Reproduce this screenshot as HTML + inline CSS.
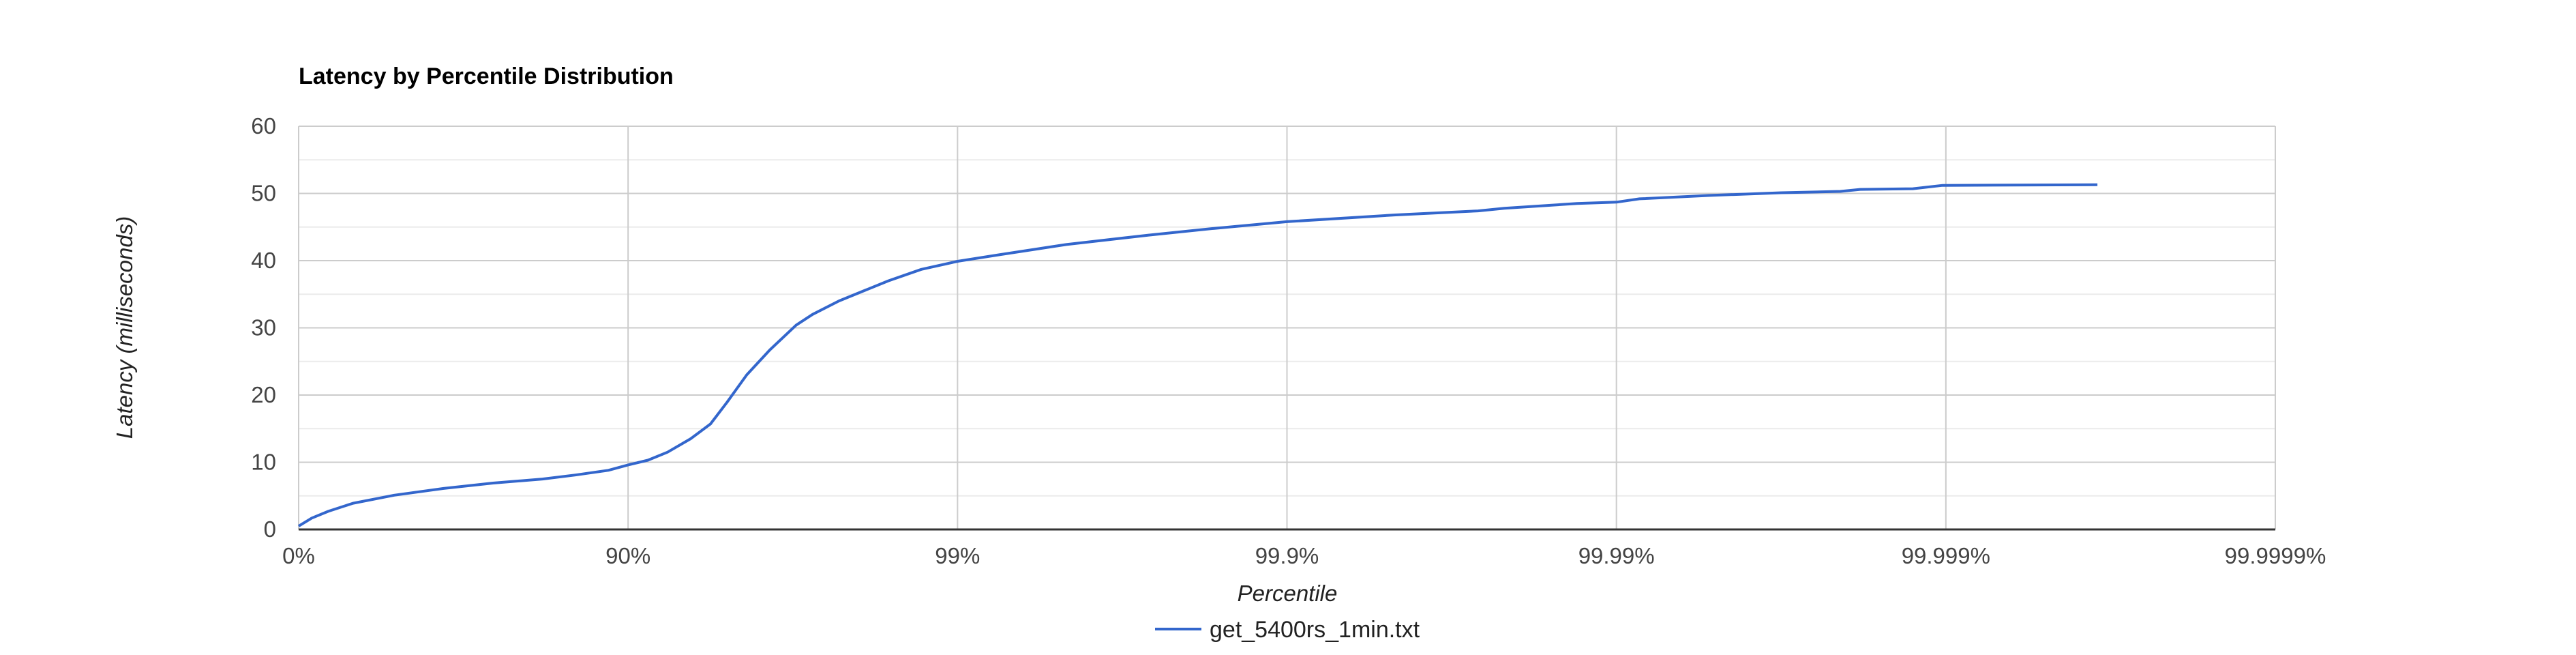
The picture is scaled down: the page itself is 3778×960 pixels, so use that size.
<!DOCTYPE html>
<html><head><meta charset="utf-8"><style>
html,body{margin:0;padding:0;background:#fff;}
svg{display:block;font-family:"Liberation Sans",sans-serif;}
</style></head><body>
<svg id="chart" width="3778" height="960" viewBox="0 0 3778 960">
<text x="438" y="123" font-size="34" font-weight="bold" fill="#000">Latency by Percentile Distribution</text>
<g id="grid"></g>
<g id="yticks"></g>
<g id="xticks"></g>
<path id="series" fill="none" stroke="#3366cc" stroke-width="4" stroke-linejoin="round"></path>
<text transform="translate(194,480) rotate(-90)" text-anchor="middle" font-size="33" font-style="italic" fill="#222">Latency (milliseconds)</text>
<text x="1888" y="881" text-anchor="middle" font-size="33" font-style="italic" fill="#222">Percentile</text>
<g>
<line x1="1694" y1="922" x2="1762" y2="922" stroke="#3366cc" stroke-width="4"></line>
<text x="1774" y="934" font-size="34" fill="#222">get_5400rs_1min.txt</text>
</g>
</svg>
<script>
const xTickLabels = ["0%","90%","99%","99.9%","99.99%","99.999%","99.9999%"];
const yTickLabels = [0,10,20,30,40,50,60];
const pos = [0,0.04,0.09,0.165,0.29,0.44,0.59,0.74,0.84,0.94,1.0,1.06,1.12,1.19,1.25,1.30,1.36,1.43,1.51,1.56,1.64,1.79,1.89,2.0,2.13,2.33,2.58,2.78,3.0,3.33,3.58,3.66,3.88,4.0,4.07,4.28,4.5,4.68,4.74,4.9,4.99,5.46];
const latency = [0.5,1.7,2.7,3.9,5.1,6.1,6.9,7.5,8.1,8.8,9.6,10.3,11.5,13.5,15.7,18.9,23,26.7,30.4,32,34,37,38.7,39.9,40.9,42.4,43.8,44.8,45.8,46.8,47.4,47.8,48.5,48.7,49.2,49.7,50.1,50.3,50.6,50.7,51.2,51.3];

const L=438,R=3337,T=185,B=776;
const xs=v=>L+(R-L)*v/6;
const ys=v=>B-(B-T)*v/60;
const NS="http://www.w3.org/2000/svg";
const grid=document.getElementById('grid'),yt=document.getElementById('yticks'),xt=document.getElementById('xticks');
function mk(tag,attrs,parent){const e=document.createElementNS(NS,tag);for(const k in attrs)e.setAttribute(k,attrs[k]);parent.appendChild(e);return e;}
for(let v=5;v<60;v+=10){
  const l=mk('line',{x1:L,x2:R,y1:ys(v),y2:ys(v),stroke:'#ebebeb','stroke-width':2},grid);
  
  
}
yTickLabels.forEach(v=>{
  if(v>0){const l=mk('line',{x1:L,x2:R,y1:ys(v),y2:ys(v),stroke:'#cccccc','stroke-width':2},grid);
  
  }
  const t=mk('text',{x:405,y:ys(v)+11,'text-anchor':'end','font-size':33,fill:'#444'},yt);
  t.textContent=v;
  
  
});
xTickLabels.forEach((s,i)=>{
  const l=mk('line',{x1:xs(i),x2:xs(i),y1:T,y2:B,stroke:'#cccccc','stroke-width':2},grid);
  
  
  const t=mk('text',{x:xs(i),y:826,'text-anchor':'middle','font-size':33,fill:'#444'},xt);
  t.textContent=s;
  
  
});
const ax=mk('line',{x1:L,x2:R,y1:B,y2:B,stroke:'#333','stroke-width':3},grid);


document.getElementById('series').setAttribute('d',pos.map((p,i)=>(i?'L':'M')+xs(p).toFixed(1)+','+ys(latency[i]).toFixed(1)).join(' '));
</script>
</body></html>
